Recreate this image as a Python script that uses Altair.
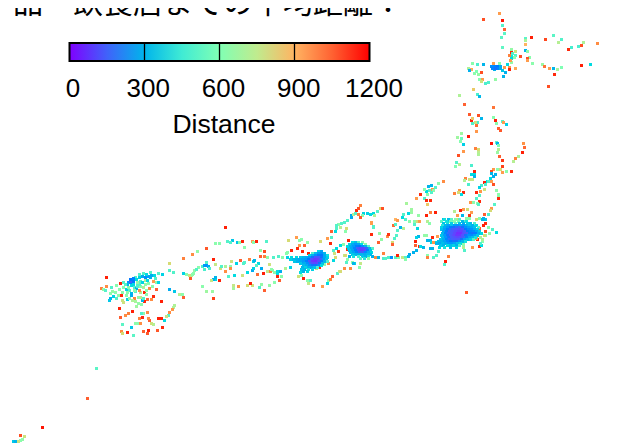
import altair as alt
import pandas as pd

# Each entry: map east, map south, average distance.
hokkaido = [
(499,13,950),(483,19,1100),(502,20,1190),(502,25,500),(504,29,1050),(504,33,520),(501,37,520),(525,38,520),
(531,37,1180),(545,39,1120),(553,35,520),(561,39,500),(558,42,720),(583,42,700),(597,43,980),(581,45,1100),
(578,46,480),(571,47,470),(568,49,1170),(525,40,700),(525,44,900),(502,47,530),(525,50,300),(527,51,620),
(511,49,640),(515,51,780),(511,52,1180),(512,53,500),(515,55,500),(511,56,420),(511,58,400),(509,55,1000),
(514,57,620),(520,56,1100),(529,57,620),(527,58,1100),(527,60,950),(532,63,620),(511,62,640),(510,60,950),
(542,64,650),(544,66,1020),(549,68,950),(553,68,300),(557,69,680),(561,67,600),(581,65,1180),(590,64,400),
(554,74,1170),(548,86,1100),(493,63,950),(499,63,620),(472,63,620),(477,64,480),(483,64,300),(507,64,400),
(468,68,700),(471,69,920),(469,70,290),(476,71,600),(474,73,620),(478,74,640),(481,72,1100),(504,67,950),
(509,67,960),(509,69,1180),(515,68,930),(494,69,290),(500,66,280),(502,70,350),(505,72,290),(503,76,300),
(495,79,640),(479,79,610),(482,79,950),(481,81,780),(485,83,480),(488,82,490),
(491,66,220),(494,66,200),(497,66,180),(492,68,200),(495,68,170),(498,68,200),(500,68,280),
]
tohoku = [
(473,89,850),(459,95,700),(477,94,480),(479,96,310),(464,104,1050),(493,107,1020),(469,114,1080),(478,115,1100),
(481,118,300),(493,117,620),(495,120,1180),(471,120,1180),(472,118,850),(472,123,500),(477,122,480),(475,122,780),
(476,125,1030),(496,123,620),(502,121,510),(503,122,950),(506,124,370),(498,128,1060),(500,130,1080),(476,131,960),
(461,133,660),(457,137,660),(461,138,560),(460,141,610),(463,144,370),(468,136,1190),(491,143,1190),(496,142,530),
(497,143,300),(498,145,600),(523,143,970),(524,147,1040),(475,148,1000),(478,149,800),(498,149,720),
(458,155,1100),(463,151,960),(478,152,740),(478,154,700),(497,152,650),(522,152,1180),(518,156,700),(515,158,1000),
(513,161,720),(499,156,1060),(502,160,1150),(502,166,1130),(511,171,1170),(506,171,620),(493,169,960),(497,169,620),
(500,169,800),(502,172,950),(491,171,1110),(491,173,300),(495,174,300),(493,176,280),(490,178,400),(487,181,400),
(491,181,950),(493,184,1100),(496,190,630),(498,194,620),(498,196,620),(498,198,1170),(494,204,510),(491,208,960),
(490,210,800),(484,214,1060),(488,214,480),(482,219,300),(485,219,350),(485,223,1170),(483,225,1180),
(455,166,600),(456,162,500),(459,164,720),(471,165,480),(474,171,1180),(474,174,400),(471,174,400),(474,176,300),
(465,178,1000),(469,179,780),(464,180,700),(472,179,760),(468,184,480),(484,182,1180),(488,181,500),(485,184,480),
(481,185,480),(479,187,380),(484,189,780),(480,191,960),(476,192,1170),(479,195,500),(476,198,500),(479,201,1170),
(470,202,960),(473,202,620),(477,203,620),(478,204,500),(463,192,1170),(459,190,960),(458,192,800),(454,193,1000),
(461,194,400),(443,181,980),(438,183,620),(431,185,300),(428,186,300),(435,187,500),(432,189,960),(426,191,400),
(424,189,620),(424,198,500),(420,194,1170),(416,198,950),(430,200,1170),(426,200,1170),(427,204,850),(406,203,680),
(433,190,620),(429,190,500),(431,192,500),(427,194,620),
]
chubu = [
(411,209,660),(411,212,650),(408,213,400),(403,214,500),(402,217,400),(405,219,500),(409,221,620),(418,215,640),
(414,221,620),(414,224,500),(417,221,800),(419,221,950),(417,228,400),(395,219,900),(397,220,960),(393,225,1040),
(395,224,500),(400,227,300),(403,228,720),(397,230,500),(396,235,500),(394,238,500),(387,236,980),(388,234,1150),
(379,233,640),(381,239,640),(378,242,1060),(371,234,1170),(371,222,950),(373,226,500),(392,242,800),(392,244,1060),
(426,215,1180),(430,212,1000),(435,212,1180),(427,221,720),(429,223,620),(418,236,300),(416,237,380),(424,235,640),
(426,235,640),(432,237,1170),(437,236,950),(430,240,300),(431,242,400),(427,240,300),(433,242,960),(436,242,400),
(438,243,500),(440,244,400),(415,241,1180),(415,245,1060),(419,246,1170),(416,250,300),(413,252,290),(409,254,280),
(408,256,300),(405,257,500),(405,259,620),(402,257,760),(423,247,300),(420,246,400),(430,248,300),(432,248,300),
(439,247,400),(438,251,500),(436,255,500),(433,257,500),(427,255,620),(427,257,1000),(448,256,1000),(445,261,1180),
(444,264,500),(466,292,1080),(472,247,960),(464,250,500),(463,247,700),(463,244,620),(457,245,400),(479,246,1170),
(481,245,400),(482,241,620),(477,239,1170),(485,235,620),(488,227,620),(492,229,500),(496,232,400),(489,233,640),
(485,231,1100),(484,235,800),(480,237,700),(482,239,700),(478,229,1000),(474,225,400),(479,228,1060),(476,238,950),
(480,243,500),(443,219,350),(447,221,400),(453,221,620),(457,219,800),(460,210,1180),(463,209,950),(462,215,300),
(467,209,800),(466,218,620),(471,212,950),(469,215,1150),(469,218,620),(476,219,800),(479,218,620),(483,218,300),
(454,211,720),(457,215,950),(459,219,500),(465,221,500),
(378,257,300),(383,258,480),(385,258,500),(388,257,480),(391,257,220),(395,257,500),(398,257,620),(397,255,1180),
(375,257,980),(383,253,1000),
]
kansai = [
(360,205,1000),(356,210,1170),(358,208,1100),(363,213,380),(367,213,380),(370,214,400),(373,213,400),(377,211,500),
(380,208,800),(382,208,1100),(374,215,700),(362,215,620),(358,214,1000),(360,217,1080),(351,215,280),(351,217,280),
(353,214,720),(355,213,500),(347,220,500),(344,222,500),(341,223,500),(338,224,620),(336,225,500),(336,228,500),
(335,231,400),(340,227,720),(346,228,800),(345,231,620),(331,231,1060),(371,223,950),(373,227,500),(331,237,500),
(327,238,950),(330,243,1170),(320,241,800),(307,242,640),(301,239,620),(299,240,620),(296,237,950),(288,240,800),
(299,245,950),(304,245,1060),(297,248,1170),(291,250,1180),(287,252,620),(286,253,620),(227,241,500),(232,240,350),
(230,242,500),(237,242,350),(239,242,620),(242,241,1180),(252,241,950),(253,242,620),(256,241,1180),(266,241,500),
(215,243,620),(219,243,620),(244,247,620),(225,227,1180),(197,251,640),(192,254,980),(206,248,1080),(213,259,1180),
(231,261,780),(236,263,380),(240,260,1060),(243,263,500),(244,262,500),(249,259,1000),(253,261,380),(254,260,300),
(258,263,400),(260,250,640),(264,251,1110),(264,256,1000),(260,256,1060),(267,257,620),(273,257,500),(278,256,500),
(282,257,620),(287,257,380),(291,257,400),(295,259,350),(302,251,1180),(312,253,500),(308,253,1180),(318,253,620),
(272,270,620),(270,271,1000),(277,271,400),(280,271,280),(277,273,400),(281,276,620),(277,276,1180),(279,280,1060),
(274,282,620),(269,285,640),(264,290,1060),(261,284,640),(259,287,500),(252,285,780),(250,283,1180),(247,285,800),
(238,286,980),(233,285,760),(233,288,680),(212,291,650),(206,291,660),(202,286,620),(213,298,1130),
(242,275,780),(234,275,400),(228,276,500),(225,271,980),(220,268,800),(230,266,620),(230,268,980),(215,264,760),
(221,266,500),(225,266,700),(247,272,400),(252,270,280),(253,268,380),(257,274,1040),(263,273,1180),(261,268,280),
(267,271,760),(269,264,780),(285,268,700),(290,267,380),(271,269,620),(274,272,620),(256,265,500),
(219,280,1180),(215,279,400),(213,279,300),(215,277,300),(211,280,760),(190,278,1000),(194,270,640),(198,267,620),
(202,266,500),(204,265,240),(206,265,220),(208,266,280),(206,262,500),(209,268,480),(204,269,480),(193,273,620),
(191,275,720),
(302,268,300),(303,264,300),(305,266,400),(300,272,400),(301,275,620),(298,276,780),(303,278,1180),(307,280,620),
(310,280,500),(308,283,760),(313,285,1080),(322,286,950),(327,283,400),(328,280,620),(330,279,1000),(332,276,1060),
(337,273,500),(339,271,760),(344,268,980),(350,268,980),(359,267,620),(354,263,380),(352,262,620),(360,263,760),
(316,268,780),(319,267,1170),(328,263,980),(324,264,620),(333,260,400),(335,257,800),(334,253,780),(338,251,1150),
(336,248,400),(333,250,500),(327,257,620),(344,255,760),(348,240,1180),(350,250,980),(347,249,1170),(340,245,400),
(343,244,620),(353,263,300),(345,255,800),(346,262,500),(347,259,620),(340,271,800),
]
kyushu = [
(183,258,1000),(169,263,800),(169,270,500),(173,272,500),(183,273,380),(186,274,620),(189,275,780),(192,274,620),
(190,278,1080),(196,269,500),(174,305,700),(173,307,700),(172,309,960),(169,312,980),(168,315,500),(166,316,780),
(164,320,400),(162,327,1170),(157,330,1080),(153,324,700),(151,323,780),(149,320,1060),(148,318,980),(158,318,1180),
(161,318,1180),(147,312,980),(143,313,620),(141,313,500),(142,317,1170),(139,318,1000),(132,311,1180),(128,313,1000),
(125,315,980),(120,317,1060),(119,308,1180),(122,324,520),(135,323,620),(137,323,620),(140,323,980),(131,327,350),
(127,332,1180),(121,331,980),(122,333,800),(133,335,520),(143,331,1060),(148,330,1180),(147,333,1080),(169,289,280),
(174,291,350),(179,294,720),(182,294,620),(183,297,1060),(161,301,1180),(153,296,1170),(151,299,980),(147,299,1050),
(144,301,1170),(138,303,640),(136,306,660),(140,297,760),(123,302,780),(122,300,780),(127,299,380),(110,298,300),
(109,300,350),(116,298,500),(113,296,380),(121,295,1170),(131,293,300),(131,295,280),(135,291,500),(140,292,700),
(144,292,1170),(149,288,980),(156,289,1060),(139,290,980),(142,300,300),(143,298,500),(106,277,1180),(120,283,1180),
(106,286,980),(101,288,1000),(103,289,640),(105,290,500),(110,293,620),(112,291,640),(115,292,620),(119,289,620),
(116,285,620),(111,287,500),(123,282,500),(126,289,380),(129,290,500),(134,287,500),(136,288,300),(131,285,400),
(137,286,500),(140,281,500),(142,282,380),(145,280,700),(147,280,400),(150,277,300),(151,275,280),(150,272,500),
(158,273,500),(162,274,380),(156,282,620),(158,282,380),(153,281,950),(135,277,500),(139,277,380),(142,276,280),
(145,277,220),(148,276,260),(136,279,400),(133,279,240),(128,282,240),(131,282,200),(133,281,180),(127,284,300),
(123,287,620),(128,287,620),(133,284,400),(140,286,620),(139,284,500),(145,284,640),(148,283,620),(137,283,500),
(143,287,700),(146,294,620),(134,298,1000),(138,297,640),(132,300,700),
(125,284,500),(122,292,620),(118,295,640),(126,295,620),(129,298,620),(135,301,680),(141,304,620),(146,290,620),
(152,286,620),(155,278,500),(154,275,400),(146,274,400),(143,273,500),(139,274,500),(137,282,640),(134,290,620),
(127,292,620),(130,281,140),(133,278,200),(130,279,180),
]
okinawa = [
(96,368,520),(87,398,1060),(42,427,1190),(20,435,1100),(24,436,780),(22,439,640),(20,440,620),(18,441,780),
(13,441,350),(15,441,300),
]

# Dense city clusters, row by row: {south: [(east, distance), ...]}
tokyo_rows = {
219: [(444,420),(448,330),(451,520),(455,620)],
221: [(441,520),(446,420),(450,560),(454,620),(458,560),(462,320),(466,420)],
223: [(443,340),(447,420),(451,380),(455,520),(459,340),(463,290),(467,380),(470,320),(474,480)],
225: [(442,430),(445,300),(448,260),(451,330),(454,240),(457,230),(460,270),(463,230),(466,300),(469,340),(472,290),(476,400)],
227: [(441,380),(444,280),(447,230),(450,190),(453,170),(456,160),(459,140),(462,170),(465,220),(468,260),(471,280),(474,330),(478,520)],
229: [(441,330),(444,250),(447,190),(450,160),(453,130),(456,100),(459,90),(462,120),(465,180),(468,210),(471,230),(474,290),(477,380)],
231: [(443,270),(446,190),(449,150),(452,110),(455,80),(458,50),(461,60),(464,120),(467,180),(470,200),(473,210),(476,260),(479,360)],
233: [(442,300),(445,200),(448,160),(451,120),(454,70),(457,30),(460,30),(463,90),(466,150),(469,190),(472,170),(475,190),(478,280),(481,400)],
235: [(441,340),(444,240),(447,170),(450,120),(453,80),(456,40),(459,40),(462,100),(465,170),(468,220),(471,210),(474,250),(477,340)],
237: [(442,320),(445,230),(448,170),(451,130),(454,90),(457,70),(460,90),(463,150),(466,200),(469,270),(472,320),(475,420)],
239: [(440,350),(443,280),(446,200),(449,160),(452,130),(455,110),(458,120),(461,170),(464,250),(467,310),(470,380),(473,500)],
241: [(438,320),(441,300),(444,260),(447,210),(450,180),(453,170),(456,170),(459,230),(462,300),(465,420)],
243: [(436,300),(439,270),(442,320),(445,280),(448,240),(451,230),(454,260),(457,330),(460,400)],
245: [(440,350),(443,300),(447,400),(450,320),(453,380),(456,290),(459,480)],
247: [(444,420),(450,330),(456,380)],
}
nagoya_rows = {
242: [(352,400),(355,320),(358,500),(362,620)],
244: [(349,380),(352,280),(355,240),(358,260),(361,400),(365,620)],
246: [(347,400),(350,290),(353,240),(356,190),(359,180),(362,220),(365,300),(368,500)],
248: [(348,360),(351,270),(354,200),(357,130),(360,70),(363,70),(366,160),(369,300),(372,500)],
250: [(349,340),(352,260),(355,190),(358,110),(361,50),(364,80),(367,190),(370,340)],
252: [(350,320),(353,260),(356,200),(359,150),(362,140),(365,210),(368,290),(371,400)],
254: [(352,340),(355,300),(358,290),(361,300),(364,280),(367,320),(370,320)],
256: [(349,300),(353,420),(358,480),(362,340),(365,300),(368,420),(372,290)],
258: [(360,520),(364,430),(368,620)],
}
osaka_rows = {
251: [(318,380),(321,260)],
253: [(312,480),(315,320),(318,240),(321,220),(324,300)],
255: [(309,400),(312,290),(315,220),(318,180),(321,180),(324,270),(327,420)],
257: [(296,400),(300,340),(303,300),(306,270),(309,230),(312,170),(315,110),(318,120),(321,170),(324,270),(327,380)],
259: [(290,380),(293,320),(296,300),(299,280),(302,260),(305,240),(308,180),(311,100),(314,50),(317,60),(320,130),(323,240),(326,340)],
261: [(294,340),(297,290),(300,270),(303,240),(306,190),(309,120),(312,40),(315,30),(318,80),(321,190),(324,300),(327,480)],
263: [(300,350),(304,280),(307,220),(310,130),(313,80),(316,80),(319,170),(322,320)],
265: [(303,320),(306,280),(309,220),(312,170),(315,170),(318,220),(321,400)],
267: [(302,300),(305,380),(308,290),(311,270),(314,320),(317,480)],
269: [(301,340),(304,300),(308,420),(312,380)],
271: [(303,300),(307,400)],
}

title_text = "品　飲食店までの平均距離："
legend_title = "Distance"
legend_ticks = [300, 600, 900]
legend_labels = [0, 300, 600, 900, 1200]
legend_span = [0, 1200]
color_stops = [0, 150, 300, 450, 600, 750, 900, 1050, 1200]
color_values = ["#8000ff", "#4062fa", "#00b5eb", "#40ebd4", "#80ffb4", "#c0eb8e", "#ffb462", "#ff6232", "#ff0000"]

rows = []
for group in (hokkaido, tohoku, chubu, kansai, kyushu, okinawa):
    rows.extend(group)
for block in (tokyo_rows, nagoya_rows, osaka_rows):
    for south, cells in block.items():
        rows.extend((east, south, dist) for east, dist in cells)
points = pd.DataFrame(rows, columns=["east", "south", "distance"])

W, H = 609, 435

dots = alt.Chart(points).mark_square(size=9, opacity=1, strokeWidth=0, xOffset=0.5, yOffset=0.5, clip=False).encode(
    x=alt.X("east:Q", scale=alt.Scale(domain=[8, 8 + W], nice=False, zero=False), axis=None),
    y=alt.Y("south:Q", scale=alt.Scale(domain=[8, 8 + H], range=[0, H], nice=False, zero=False), axis=None),
    color=alt.Color(
        "distance:Q",
        scale=alt.Scale(domain=color_stops, range=color_values),
        legend=None,
    ),
)

bar_scale = alt.Scale(domain=legend_span, range=[61.5, 361.5], nice=False)

colourbar = alt.Chart(pd.DataFrame({"a": [legend_span[0]], "b": [legend_span[1]]})).mark_rect(
    stroke="black", strokeWidth=2,
    fill=alt.Gradient(
        gradient="linear", x1=0, x2=1, y1=0, y2=0,
        stops=[alt.GradientStop(offset=s / legend_span[1], color=c) for s, c in zip(color_stops, color_values)],
    ),
).encode(
    x=alt.X("a:Q", scale=bar_scale, axis=None),
    x2="b:Q",
    y=alt.value(35), y2=alt.value(53),
)

ticks = alt.Chart(pd.DataFrame({"t": legend_ticks})).mark_rule(color="black", strokeWidth=1.3).encode(
    x=alt.X("t:Q", scale=bar_scale, axis=None),
    y=alt.value(35), y2=alt.value(53),
)

labels = alt.Chart(pd.DataFrame({"t": legend_labels})).mark_text(
    font="Liberation Sans", fontSize=26, color="black", baseline="alphabetic", align="center"
).encode(
    x=alt.X("t:Q", scale=alt.Scale(domain=legend_span, range=[65, 366], nice=False), axis=None),
    y=alt.value(89),
    text=alt.Text("t:Q", format="d"),
)

name = alt.Chart(pd.DataFrame({"t": [legend_title]})).mark_text(
    font="Liberation Sans", fontSize=26.5, color="black", baseline="alphabetic", align="center"
).encode(x=alt.value(216), y=alt.value(125), text="t:N")

# The page's 8px margin keeps the top slice of the reference out of reach, so the
# same cut-off bottom band of the heading is shown just below it.
heading = alt.Chart(pd.DataFrame({"t": [title_text]})).mark_text(
    font="Noto Sans CJK JP", fontSize=30, color="black", baseline="alphabetic", align="left"
).encode(x=alt.value(5), y=alt.value(5), text="t:N")

chart = alt.layer(dots, colourbar, ticks, labels, name, heading).resolve_scale(x="independent").properties(
    width=W, height=H, padding=0, autosize=alt.AutoSizeParams(type="none"),
).configure_view(stroke=None)

chart.save("out.html", embed_options={"renderer": "svg", "actions": False})
